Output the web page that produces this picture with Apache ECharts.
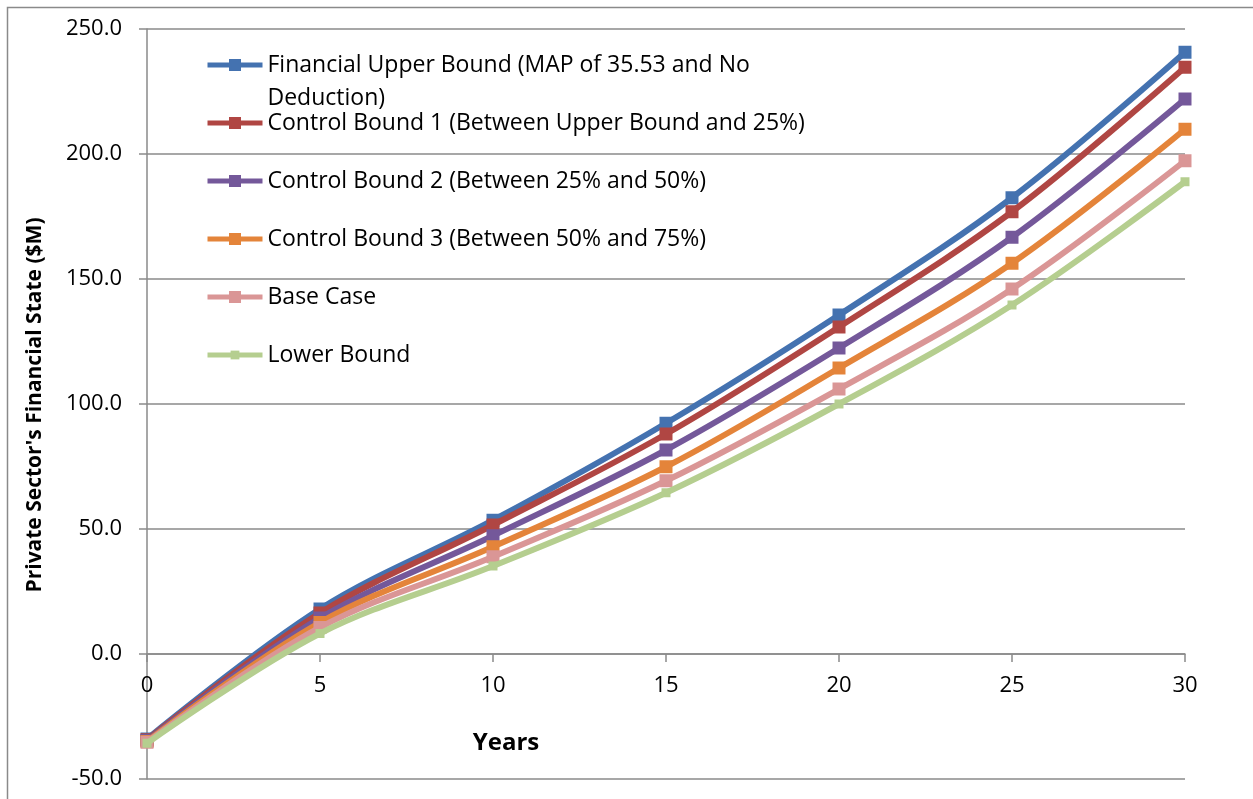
<!DOCTYPE html>
<html>
<head>
<meta charset="utf-8">
<script src="https://cdn.jsdelivr.net/npm/echarts@6/dist/echarts.min.js"></script>
<style>html,body{margin:0;padding:0;background:#fff;}#c{width:1253px;height:799px;}</style>
</head>
<body>
<div id="c"></div>
<script>
const years = [0, 5, 10, 15, 20, 25, 30];
const seriesNames = [
  'Financial Upper Bound (MAP of 35.53 and No Deduction)',
  'Control Bound 1 (Between Upper Bound and 25%)',
  'Control Bound 2 (Between 25% and 50%)',
  'Control Bound 3 (Between 50% and 75%)',
  'Base Case',
  'Lower Bound'
];
const upperBound = [-34.0, 18.0, 53.5, 92.3, 135.6, 182.5, 240.7];
const controlBound1 = [-34.3, 16.4, 51.6, 88.0, 130.8, 176.9, 234.7];
const controlBound2 = [-34.6, 14.4, 47.3, 81.6, 122.4, 166.7, 222.0];
const controlBound3 = [-35.0, 12.6, 42.9, 74.9, 114.4, 156.3, 209.9];
const baseCase = [-35.3, 10.6, 38.9, 69.3, 106.0, 146.0, 197.3];
const lowerBound = [-35.7, 8.2, 35.2, 64.5, 100.0, 139.6, 188.9];
const yMin = -50, yMax = 250, yStep = 50;
const xMin = 0, xMax = 30, xStep = 5;

const values = [upperBound, controlBound1, controlBound2, controlBound3, baseCase, lowerBound];
const colors = ['#4472B0', '#B04643', '#74589A', '#E4843A', '#DA9696', '#B5CE8F'];
const symSizes = [13, 13, 13, 13, 13, 9];
const FONT = '"Open Sans", "Noto Sans", sans-serif';
const GRAY = '#8a8a8a';

const W = 1253, H = 799;
const gridTop = 29, gridBottom = 20, gridLeft = 147, gridRight = 68;
const gridH = H - gridTop - gridBottom;
const zeroOffset = -gridH * (0 - yMin) / (yMax - yMin);

const chart = echarts.init(document.getElementById('c'), null, {renderer: 'canvas', width: W, height: H});

const legendCenters = [65, 123, 181, 239, 297, 355];
const LFS = 23;
const legends = seriesNames.map((name, i) => {
  const first = i === 0;
  const ih = i === 5 ? 11 : 15;
  const lh = first ? 33 : 26;
  const h = first ? 99 : 26;
  const leg = {
    show: true,
    orient: 'vertical',
    left: 205,
    top: legendCenters[i] - h / 2,
    padding: 0,
    itemWidth: 55,
    itemHeight: ih,
    itemGap: 0,
    selectedMode: false,
    data: [name],
    lineStyle: {width: 5},
    textStyle: {fontFamily: FONT, fontSize: LFS, color: '#000', lineHeight: lh}
  };
  if (first) {
    leg.formatter = () => '{s| }\n{a|Financial Upper Bound (MAP of 35.53 and No}\n{a|Deduction)}';
    leg.textStyle.rich = {
      s: {fontFamily: FONT, fontSize: LFS, lineHeight: 33, color: '#000'},
      a: {fontFamily: FONT, fontSize: LFS, lineHeight: 33, color: '#000'}
    };
  }
  return leg;
});

const option = {
  animation: false,
  backgroundColor: '#fff',
  graphic: [
    {type: 'rect', shape: {x: 7.5, y: 7.5, width: 1270, height: 820}, style: {fill: 'none', stroke: GRAY, lineWidth: 1.5}, z: -10},
    {type: 'text', x: 35, y: 405, rotation: Math.PI / 2,
     style: {text: "Private Sector's Financial State ($M)", font: 'bold 21px ' + FONT, fill: '#000', align: 'center', verticalAlign: 'middle'}},
    {type: 'text', x: 506, y: 743, style: {text: 'Years', font: 'bold 24px ' + FONT, fill: '#000', align: 'center', verticalAlign: 'middle'}}
  ],
  legend: legends,
  grid: {left: gridLeft, right: gridRight, top: gridTop, bottom: gridBottom, containLabel: false, outerBoundsMode: 'none'},
  xAxis: {
    type: 'value', min: xMin, max: xMax, interval: xStep,
    offset: zeroOffset,
    axisLine: {show: true, onZero: false, lineStyle: {color: GRAY, width: 1.5}},
    axisTick: {show: true, inside: false, length: 8, lineStyle: {color: GRAY, width: 1.5}},
    axisLabel: {show: true, margin: 21, fontFamily: FONT, fontSize: 22, color: '#000', formatter: v => String(v)},
    splitLine: {show: false}
  },
  yAxis: {
    type: 'value', min: yMin, max: yMax, interval: yStep,
    axisLine: {show: true, onZero: false, lineStyle: {color: GRAY, width: 1.5}},
    axisTick: {show: true, inside: false, length: 8, lineStyle: {color: GRAY, width: 1.5}},
    axisLabel: {show: true, margin: 25, fontFamily: FONT, fontSize: 22, color: '#000', formatter: v => v.toFixed(1)},
    splitLine: {show: true, lineStyle: {color: GRAY, width: 1.5}}
  },
  series: seriesNames.map((name, i) => ({
    name: name,
    type: 'line',
    smooth: 0.35,
    symbol: 'rect',
    symbolSize: symSizes[i],
    showSymbol: true,
    color: colors[i],
    lineStyle: {width: 6, color: colors[i]},
    itemStyle: {color: colors[i]},
    data: years.map((x, k) => [x, values[i][k]]),
    z: 2 + i
  }))
};
chart.setOption(option);
</script>
</body>
</html>
